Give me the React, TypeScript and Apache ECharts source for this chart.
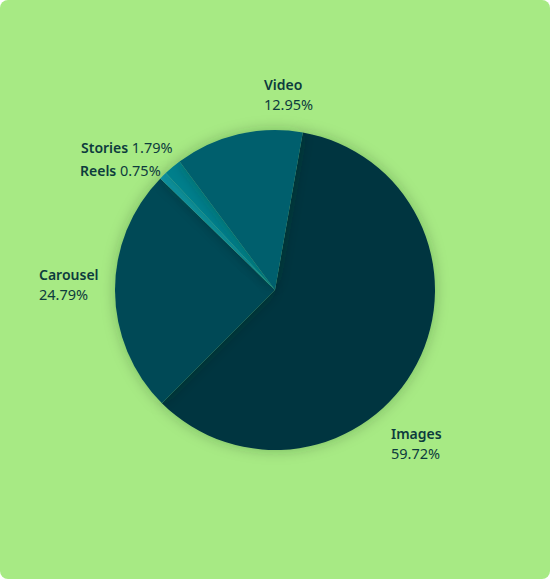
import React, { useEffect, useRef } from "react";
import * as echarts from "echarts";

const categories = ["Images", "Carousel", "Reels", "Stories", "Video"];
const shares = [59.72, 24.79, 0.75, 1.79, 12.95];
const colors = ["#003540", "#004a56", "#0f93a3", "#007f8c", "#005f6d"];
const singleLine = [false, false, true, true, false];
const labelPos = [
  [391, 423],
  [39, 264],
  [80, 160],
  [81, 137],
  [264, 74],
];

export default function App() {
  const ref = useRef<HTMLDivElement>(null);
  useEffect(() => {
    document.body.style.margin = "0";
    const chart = echarts.init(ref.current!, null, { renderer: "svg" });
    chart.setOption({
      animation: false,
      backgroundColor: "transparent",
      series: [
        {
          type: "pie",
          center: [275, 290],
          radius: [0, 160],
          startAngle: 80,
          clockwise: true,
          avoidLabelOverlap: false,
          data: categories.map((name, i) => ({
            name,
            value: shares[i],
            itemStyle: { color: colors[i] },
          })),
          itemStyle: {
            shadowBlur: 14,
            shadowColor: "rgba(0, 50, 30, 0.28)",
          },
          emphasis: { disabled: true },
          label: {
            show: true,
            position: "outside",
            color: "#0d3b3d",
            fontFamily: "'Noto Sans', sans-serif",
            fontSize: 14,
            lineHeight: 20,
            formatter: (p: any) => {
              const v = shares[p.dataIndex].toFixed(2) + "%";
              return singleLine[p.dataIndex]
                ? `{n|${p.name}} {v|${v}}`
                : `{n|${p.name}}\n{v|${v}}`;
            },
            rich: {
              n: {
                fontWeight: 600,
                fontSize: 14,
                lineHeight: 20,
                color: "#0d3b3d",
                fontFamily: "'Noto Sans', sans-serif",
              },
              v: {
                fontWeight: 400,
                fontSize: 14.5,
                lineHeight: 20,
                color: "#0d3b3d",
                fontFamily: "'Noto Sans', sans-serif",
              },
            },
          },
          labelLine: { show: false },
          labelLayout: (params: any) => ({
            x: labelPos[params.dataIndex][0],
            y: labelPos[params.dataIndex][1],
            align: "left",
            verticalAlign: "top",
          }),
        },
      ],
    });
    return () => chart.dispose();
  }, []);
  return (
    <div
      style={{
        position: "absolute",
        left: 0,
        top: 0,
        width: 550,
        height: 579,
        background: "#a7ea84",
        borderRadius: 8,
        overflow: "hidden",
      }}
    >
      <div ref={ref} style={{ width: 550, height: 579 }} />
    </div>
  );
}
